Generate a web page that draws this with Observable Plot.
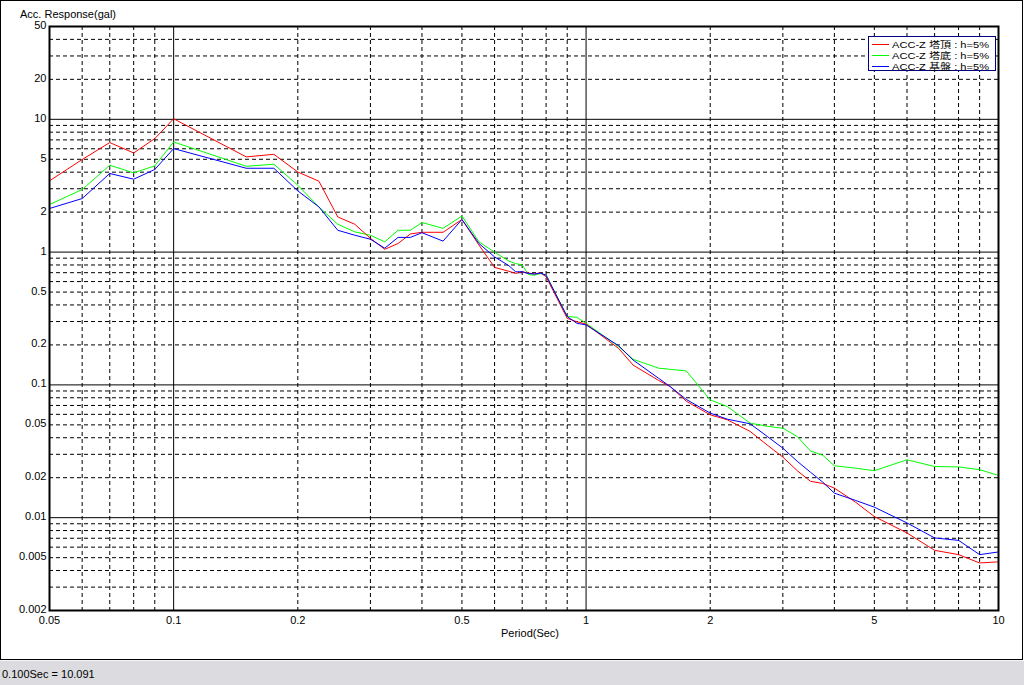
<!DOCTYPE html>
<html>
<head>
<meta charset="utf-8">
<script src="https://cdn.jsdelivr.net/npm/d3@7"></script>
<script src="https://cdn.jsdelivr.net/npm/@observablehq/plot@0.6"></script>
<style>
  html, body { margin: 0; padding: 0; background: #ffffff; }
  #chart { width: 1024px; height: 660px; }
  #chart svg { display: block; }
  #status {
    width: 1024px; height: 25px; box-sizing: border-box;
    background: #dcdce0; border-top: 1px solid #f4f4f4;
    font-family: "Liberation Sans", Arial, sans-serif; font-size: 11px;
    color: #000; padding: 7px 0 0 2px; line-height: 12px;
  }
</style>
</head>
<body>
<div id="chart"></div>
<div id="status">0.100Sec = 10.091</div>
<script>
// Periods (sec)
const periods = [
  0.05, 0.06, 0.07, 0.08, 0.09, 0.1, 0.15, 0.175, 0.2, 0.225,
  0.25, 0.275, 0.3, 0.325, 0.35, 0.375, 0.4, 0.45, 0.5, 0.55,
  0.6, 0.65, 0.675, 0.7, 0.725, 0.75, 0.775, 0.8, 0.9, 0.95,
  1.0, 1.2, 1.3, 1.5, 1.6, 1.75, 2.0, 2.2, 2.5, 2.75,
  3.0, 3.25, 3.5, 3.75, 4.0, 4.5, 5.0, 6.0, 7.0, 8.0,
  9.0, 10.0
];
// ACC-Z 塔頂 (red)
const towerTop = [
  3.44, 4.98, 6.68, 5.58, 7.16, 10.09, 5.21, 5.45, 4.01, 3.42,
  1.84, 1.62, 1.27, 1.05, 1.16, 1.37, 1.41, 1.41, 1.76, 1.13,
  0.767, 0.717, 0.691, 0.711, 0.695, 0.684, 0.70, 0.652, 0.317, 0.299,
  0.287, 0.188, 0.141, 0.108, 0.0971, 0.0754, 0.0595, 0.0546, 0.0446, 0.0352,
  0.0286, 0.0226, 0.0188, 0.0181, 0.0167, 0.0131, 0.0102, 0.00767, 0.00568, 0.00527,
  0.00456, 0.00465
];
// ACC-Z 塔底 (green)
const towerBase = [
  2.28, 2.96, 4.51, 3.95, 4.46, 6.75, 4.43, 4.59, 3.19, 2.19,
  1.62, 1.42, 1.34, 1.195, 1.46, 1.46, 1.67, 1.51, 1.87, 1.195,
  1.0, 0.855, 0.82, 0.80, 0.677, 0.67, 0.69, 0.67, 0.327, 0.323,
  0.291, 0.194, 0.156, 0.1335, 0.131, 0.1274, 0.0771, 0.0687, 0.0515, 0.0488,
  0.0472, 0.0409, 0.0318, 0.0295, 0.0246, 0.0236, 0.0226, 0.0273, 0.0243, 0.0241,
  0.0230, 0.0208
];
// ACC-Z 基盤 (blue)
const bedrock = [
  2.13, 2.53, 3.91, 3.54, 4.19, 6.02, 4.28, 4.28, 2.89, 2.19,
  1.46, 1.34, 1.25, 1.07, 1.29, 1.29, 1.40, 1.21, 1.76, 1.16,
  0.92, 0.79, 0.711, 0.711, 0.69, 0.684, 0.695, 0.67, 0.327, 0.291,
  0.283, 0.197, 0.154, 0.112, 0.097, 0.0777, 0.0613, 0.0552, 0.0509, 0.0409,
  0.0334, 0.0266, 0.0220, 0.0185, 0.0153, 0.0135, 0.0120, 0.00913, 0.00704, 0.00675,
  0.00527, 0.00552
];

const seriesNames = ["ACC-Z 塔頂 : h=5%", "ACC-Z 塔底 : h=5%", "ACC-Z 基盤 : h=5%"];
const seriesColors = ["#ff0000", "#00ff00", "#0000ff"];

const xTicks = [0.05, 0.1, 0.2, 0.5, 1, 2, 5, 10];
const xTickLabels = ["0.05", "0.1", "0.2", "0.5", "1", "2", "5", "10"];
const yTicks = [0.002, 0.005, 0.01, 0.02, 0.05, 0.1, 0.2, 0.5, 1, 2, 5, 10, 20, 50];
const yTickLabels = ["0.002", "0.005", "0.01", "0.02", "0.05", "0.1", "0.2", "0.5", "1", "2", "5", "10", "20", "50"];
const xMajor = [0.1, 1];
const xMinor = [0.06, 0.07, 0.08, 0.09, 0.2, 0.3, 0.4, 0.5, 0.6, 0.7, 0.8, 0.9, 2, 3, 4, 5, 6, 7, 8, 9];
const yMajor = [0.01, 0.1, 1, 10];
const yMinor = [0.003, 0.004, 0.005, 0.006, 0.007, 0.008, 0.009,
                0.02, 0.03, 0.04, 0.05, 0.06, 0.07, 0.08, 0.09,
                0.2, 0.3, 0.4, 0.5, 0.6, 0.7, 0.8, 0.9,
                2, 3, 4, 5, 6, 7, 8, 9, 20, 30, 40];

const toRows = (vals) => periods.map((p, i) => ({period: p, value: vals[i]}));
const rowsTop = toRows(towerTop);
const rowsBase = toRows(towerBase);
const rowsBed = toRows(bedrock);

const chart = Plot.plot({
  width: 1024,
  height: 660,
  marginLeft: 49,
  marginRight: 26,
  marginTop: 26,
  marginBottom: 50,
  style: {fontFamily: "'Liberation Sans', Arial, sans-serif", fontSize: "11px", background: "#ffffff", color: "#000000", overflow: "visible"},
  x: {type: "log", domain: [0.05, 10], axis: null},
  y: {type: "log", domain: [0.002, 50], axis: null},
  marks: [
    Plot.ruleX(xMinor, {stroke: "#000", strokeWidth: 1, strokeDasharray: "4,3"}),
    Plot.ruleY(yMinor, {stroke: "#000", strokeWidth: 1, strokeDasharray: "4,3"}),
    Plot.ruleX(xMajor, {stroke: "#000", strokeWidth: 1}),
    Plot.ruleY(yMajor, {stroke: "#000", strokeWidth: 1}),
    Plot.line(rowsBase, {x: "period", y: "value", stroke: seriesColors[1], strokeWidth: 1}),
    Plot.line(rowsTop, {x: "period", y: "value", stroke: seriesColors[0], strokeWidth: 1}),
    Plot.line(rowsBed, {x: "period", y: "value", stroke: seriesColors[2], strokeWidth: 1}),
    Plot.frame({stroke: "#000", strokeWidth: 2}),
    Plot.text(xTicks, {x: d => d, text: (d, i) => xTickLabels[i], frameAnchor: "bottom", lineAnchor: "top", dy: 6, fill: "#000", fontSize: 11}),
    Plot.text(yTicks, {y: d => d, text: (d, i) => yTickLabels[i], frameAnchor: "left", textAnchor: "end", dx: -3, dy: -1, fill: "#000", fontSize: 11})
  ]
});

const svg = d3.select(chart);
// window border
svg.append("rect")
  .attr("x", 0.5).attr("y", 0.5).attr("width", 1022).attr("height", 659)
  .attr("fill", "none").attr("stroke", "#000").attr("stroke-width", 1);

// axis titles
svg.append("text").attr("x", 20).attr("y", 18).attr("text-anchor", "start")
  .attr("font-size", 11).attr("fill", "#000")
  .text("Acc. Response(gal)");
svg.append("text").attr("x", 530).attr("y", 637).attr("text-anchor", "middle")
  .attr("font-size", 11).attr("fill", "#000")
  .text("Period(Sec)");

// legend
const lg = svg.append("g").attr("font-family", "'Liberation Sans', 'Noto Sans CJK JP', Arial, sans-serif").attr("font-size", 9.5).attr("text-anchor", "start");
lg.append("rect").attr("x", 868.5).attr("y", 36.5).attr("width", 127).attr("height", 34)
  .attr("fill", "#fff").attr("stroke", "#000080").attr("stroke-width", 1);
seriesNames.forEach((name, i) => {
  const y = 44.5 + i * 11;
  lg.append("line").attr("x1", 872).attr("x2", 889).attr("y1", y).attr("y2", y)
    .attr("stroke", seriesColors[i]).attr("stroke-width", 1);
  lg.append("text").attr("x", 892).attr("y", y + 3.5).attr("fill", "#000")
    .attr("textLength", 97).attr("lengthAdjust", "spacingAndGlyphs").text(name);
});

document.getElementById("chart").appendChild(chart);
</script>
</body>
</html>
